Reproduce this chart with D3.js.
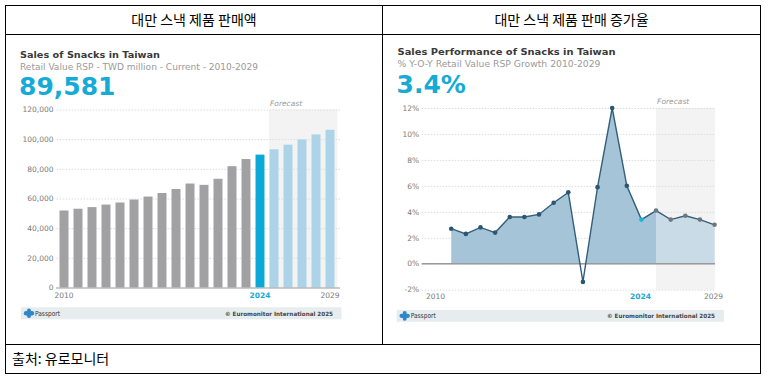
<!DOCTYPE html>
<html><head><meta charset="utf-8">
<script src="https://cdn.jsdelivr.net/npm/d3@7"></script>
<style>
html,body{margin:0;padding:0;background:#fff;}
svg{display:block;}
</style></head>
<body>
<svg id="c" width="770" height="378"></svg>
<script>
// ---------- data ----------
const years = d3.range(2010, 2030);
const salesValues = [51900, 53100, 54200, 55900, 57300, 59300, 61300, 63700, 66400, 70100,
                     69200, 73300, 81800, 86600, 89581, 93200, 96300, 99800, 103200, 106300];
const growthYears = d3.range(2011, 2030);
const growthValues = [2.7, 2.3, 2.8, 2.4, 3.6, 3.6, 3.8, 4.7, 5.5, -1.4,
                      5.9, 12.0, 6.0, 3.4, 4.1, 3.4, 3.7, 3.4, 3.0];
const salesTicks = [0, 20000, 40000, 60000, 80000, 100000, 120000];
const growthTicks = [-2, 0, 2, 4, 6, 8, 10, 12];
const xTickYears = [2010, 2024, 2029];
const currentYear = 2024;
const headerLeft = "대만 스낵 제품 판매액";
const headerRight = "대만 스낵 제품 판매 증가율";
const sourceText = "출처: 유로모니터";

const svg = d3.select("#c");
const KR = "'Noto Sans CJK KR','Noto Sans',sans-serif";
const DJ = "'DejaVu Sans',Verdana,sans-serif";

// ---------- table frame ----------
const T = {l:5.5, r:760.5, t:5.5, b:373.5, hdr:34.5, mid:382.5, foot:344.5};
const frame = svg.append("g").attr("stroke","#000").attr("stroke-width",1).attr("fill","none");
frame.append("rect").attr("x",T.l).attr("y",T.t).attr("width",T.r-T.l).attr("height",T.b-T.t);
frame.append("line").attr("x1",T.l).attr("x2",T.r).attr("y1",T.hdr).attr("y2",T.hdr);
frame.append("line").attr("x1",T.l).attr("x2",T.r).attr("y1",T.foot).attr("y2",T.foot);
frame.append("line").attr("x1",T.mid).attr("x2",T.mid).attr("y1",T.t).attr("y2",T.foot);

svg.append("text").attr("x",(T.l+T.mid)/2).attr("y",25).attr("text-anchor","middle")
  .attr("font-family",KR).attr("font-size",14).attr("fill","#000").text(headerLeft);
svg.append("text").attr("x",(T.mid+T.r)/2).attr("y",25).attr("text-anchor","middle")
  .attr("font-family",KR).attr("font-size",14).attr("fill","#000").text(headerRight);
svg.append("text").attr("x",12).attr("y",364).attr("font-family",KR).attr("font-size",14)
  .attr("fill","#000").text(sourceText);

function header(g, x, yT, title, sub, big, wT, wS) {
  g.append("text").attr("x",x).attr("y",yT).attr("font-family",DJ).attr("font-weight","bold")
    .attr("font-size",9.5).attr("fill","#3a3a3a").attr("textLength",wT).attr("lengthAdjust","spacingAndGlyphs").text(title);
  g.append("text").attr("x",x).attr("y",yT+12).attr("font-family",DJ)
    .attr("font-size",8.5).attr("fill","#9a9a9a").attr("textLength",wS).attr("lengthAdjust","spacingAndGlyphs").text(sub);
  g.append("text").attr("x",x-1).attr("y",yT+37.5).attr("font-family",DJ).attr("font-weight","bold")
    .attr("font-size",25).attr("fill","#16abd6").text(big);
}
function footer(g, x0, x1, y0, y1, tx) {
  g.append("rect").attr("x",x0).attr("y",y0).attr("width",x1-x0).attr("height",y1-y0).attr("fill","#e7ecee");
  const ic = g.append("g").attr("transform",`translate(${x0+8},${(y0+y1)/2})`).attr("fill","#2f86c9");
  ic.append("circle").attr("cx",-3).attr("cy",0).attr("r",2.2);
  ic.append("circle").attr("cx",3).attr("cy",0).attr("r",2.2);
  ic.append("circle").attr("cx",0).attr("cy",-2.8).attr("r",2);
  ic.append("circle").attr("cx",0).attr("cy",2.8).attr("r",2);
  ic.append("rect").attr("x",-3).attr("y",-2).attr("width",6).attr("height",4);
  g.append("text").attr("x",x0+14).attr("y",(y0+y1)/2+2.6).attr("font-family",DJ).attr("font-size",7)
    .attr("fill","#333").attr("textLength",25).attr("lengthAdjust","spacingAndGlyphs").text("Passport");
  g.append("text").attr("x",tx).attr("y",(y0+y1)/2+2.2).attr("text-anchor","end").attr("font-family",DJ)
    .attr("font-weight","bold").attr("font-size",5.8).attr("fill","#444")
    .attr("textLength",108).attr("lengthAdjust","spacingAndGlyphs").text("© Euromonitor International 2025");
}

// ---------- left chart: bars ----------
const L = svg.append("g");
header(L, 20, 57.5, "Sales of Snacks in Taiwan", "Retail Value RSP - TWD million - Current - 2010-2029",
       d3.format(",")(salesValues[years.indexOf(currentYear)]), 140, 238);

const xL = d3.scaleBand().domain(years).range([57, 337]).paddingInner(0.36).paddingOuter(0.18);
const yL = d3.scaleLinear().domain([0, 120000]).range([287.5, 109.5]);

L.append("rect").attr("x",xL(2025)-0.5).attr("y",yL(120000))
  .attr("width",xL(2029)+xL.bandwidth()+3-(xL(2025)-0.5)).attr("height",yL(0)-yL(120000)).attr("fill","#f3f3f3");
L.append("text").attr("x",xL(2025)+0.5).attr("y",105.5).attr("font-family",DJ).attr("font-style","italic")
  .attr("font-size",7.5).attr("fill","#9a9a9a").text("Forecast");

const axL = L.append("g").attr("transform","translate(56.5,0)")
  .call(d3.axisLeft(yL).tickValues(salesTicks).tickFormat(d3.format(",")).tickSize(-283.5).tickPadding(3));
axL.select(".domain").remove();
axL.selectAll(".tick line").attr("stroke","#dcdcdc").attr("stroke-dasharray","1.5,1.5");
axL.selectAll(".tick text").attr("font-family",DJ).attr("font-size",7.5).attr("fill","#7a7a7a").attr("dy","0.3em");
axL.selectAll(".tick").filter(d=>d===0).select("line").remove();

L.selectAll("rect.bar").data(years).join("rect").attr("class","bar")
  .attr("x",d=>xL(d)).attr("width",xL.bandwidth())
  .attr("y",(d,i)=>yL(salesValues[i])).attr("height",(d,i)=>yL(0)-yL(salesValues[i]))
  .attr("fill",d=>d<currentYear?"#a1a1a3":(d===currentYear?"#0aa9d8":"#acd3e8"));

L.append("line").attr("x1",56).attr("x2",340).attr("y1",yL(0)+0.5).attr("y2",yL(0)+0.5)
  .attr("stroke","#9a9a9a").attr("stroke-width",1.2);

L.selectAll("text.xl").data(xTickYears).join("text").attr("class","xl")
  .attr("x",d=>xL(d)+xL.bandwidth()/2).attr("y",298).attr("text-anchor","middle")
  .attr("font-family",DJ).attr("font-size",7.5).attr("font-weight",d=>d===currentYear?"bold":"normal")
  .attr("fill",d=>d===currentYear?"#16abd6":"#7a7a7a").text(d=>d);

footer(L, 21, 341.5, 307.3, 319.3, 333);

// ---------- right chart: growth area/line ----------
const R = svg.append("g");
header(R, 397.5, 55, "Sales Performance of Snacks in Taiwan", "% Y-O-Y Retail Value RSP Growth 2010-2029",
       growthValues[growthYears.indexOf(currentYear)] + "%", 218, 203);

const xR = d3.scalePoint().domain(years).range([436.6, 714.6]);
const yR = d3.scaleLinear().domain([-2, 12]).range([289.7, 108]);

R.append("rect").attr("x",xR(2025)).attr("y",yR(12)).attr("width",xR(2029)+0.5-xR(2025))
  .attr("height",yR(-2)-yR(12)).attr("fill","#f3f3f3");
R.append("text").attr("x",xR(2025)+1).attr("y",104).attr("font-family",DJ).attr("font-style","italic")
  .attr("font-size",7.5).attr("fill","#9a9a9a").text("Forecast");

const axR = R.append("g").attr("transform","translate(421.7,0)")
  .call(d3.axisLeft(yR).tickValues(growthTicks).tickFormat(d=>d+"%").tickSize(-293.3).tickPadding(2.5));
axR.select(".domain").remove();
axR.selectAll(".tick line").attr("stroke","#dcdcdc").attr("stroke-dasharray","1.5,1.5");
axR.selectAll(".tick text").attr("font-family",DJ).attr("font-size",7.5).attr("fill","#7a7a7a").attr("dy","0.3em");

const gpts = growthYears.map((y,i)=>({y, v:growthValues[i]}));
svg.append("defs").append("clipPath").attr("id","abv").append("rect")
  .attr("x",0).attr("y",0).attr("width",770).attr("height",yR(0));
const area = d3.area().x(d=>xR(d.y)).y0(yR(0)).y1(d=>yR(d.v));
const ag = R.append("g").attr("clip-path","url(#abv)");
ag.append("path").datum(gpts.filter(d=>d.y<=2025)).attr("d",area).attr("fill","#a5c4d8");
ag.append("path").datum(gpts.filter(d=>d.y>=2025)).attr("d",area).attr("fill","#c9dbe6");

R.append("line").attr("x1",421.7).attr("x2",715).attr("y1",yR(0)).attr("y2",yR(0))
  .attr("stroke","#9a9a9a").attr("stroke-width",1.3);

const line = d3.line().x(d=>xR(d.y)).y(d=>yR(d.v));
R.append("path").datum(gpts).attr("d",line).attr("fill","none").attr("stroke","#345f7a").attr("stroke-width",1.4);
R.selectAll("circle.pt").data(gpts).join("circle").attr("class","pt")
  .attr("cx",d=>xR(d.y)).attr("cy",d=>yR(d.v)).attr("r",2.3)
  .attr("fill",d=>d.y<currentYear?"#2c5672":(d.y===currentYear?"#19b3dc":"#6f777c"));

R.selectAll("text.xr").data(xTickYears).join("text").attr("class","xr")
  .attr("x",d=>xR(d)-1).attr("y",299).attr("text-anchor","middle")
  .attr("font-family",DJ).attr("font-size",7.5).attr("font-weight",d=>d===currentYear?"bold":"normal")
  .attr("fill",d=>d===currentYear?"#16abd6":"#7a7a7a").text(d=>d);

footer(R, 396.7, 724, 310, 321.7, 715);
</script>
</body></html>
